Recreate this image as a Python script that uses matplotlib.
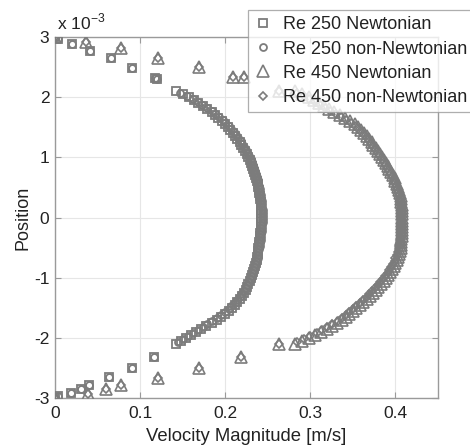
import matplotlib
matplotlib.use("Agg")
import matplotlib.pyplot as plt

plt.rcParams['font.family'] = ['Liberation Sans', 'DejaVu Sans']

# ---------------- data (position in units of 1e-3 m, velocity in m/s) -------------
# near-wall (sparse) samples
re250_wall_top_y = [3.00, 2.97, 2.88, 2.77, 2.65, 2.49, 2.32, 2.30]
re250_wall_top_v = [0.000, 0.004, 0.020, 0.041, 0.066, 0.091, 0.117, 0.120]
re250_wall_bot_y = [-2.32, -2.50, -2.65, -2.78, -2.85, -2.92, -2.97, -3.00]
re250_wall_bot_v = [0.116, 0.090, 0.064, 0.040, 0.031, 0.019, 0.004, 0.000]

re450_wall_top_y = [3.00, 2.92, 2.81, 2.65, 2.50, 2.33, 2.33, 2.10]
re450_wall_top_v = [0.000, 0.036, 0.078, 0.121, 0.169, 0.209, 0.222, 0.263]
re450_wall_bot_y = [-2.10, -2.32, -2.50, -2.66, -2.78, -2.85, -2.93, -3.00]
re450_wall_bot_v = [0.263, 0.219, 0.169, 0.121, 0.077, 0.060, 0.039, 0.000]

# core (dense) samples
core_y = [2.10, 2.05, 2.00, 1.95, 1.90, 1.85, 1.80, 1.75, 1.70, 1.65, 1.60, 1.55,
          1.50, 1.45, 1.40, 1.35, 1.30, 1.25, 1.20, 1.15, 1.10, 1.05, 1.00, 0.95,
          0.90, 0.85, 0.80, 0.75, 0.70, 0.65, 0.60, 0.55, 0.50, 0.45, 0.40, 0.35,
          0.30, 0.25, 0.20, 0.15, 0.10, 0.05, 0.00,
          -0.05, -0.10, -0.15, -0.20, -0.25, -0.30, -0.35, -0.40, -0.45, -0.50,
          -0.55, -0.60, -0.65, -0.70, -0.75, -0.80, -0.85, -0.90, -0.95, -1.00,
          -1.05, -1.10, -1.15, -1.20, -1.25, -1.30, -1.35, -1.40, -1.45, -1.50,
          -1.55, -1.60, -1.65, -1.70, -1.75, -1.80, -1.85, -1.90, -1.95, -2.00,
          -2.05, -2.10]
core_y_shifted = [2.075, 2.025, 1.975, 1.925, 1.875, 1.825, 1.775, 1.725, 1.675,
                  1.625, 1.575, 1.525, 1.475, 1.425, 1.375, 1.325, 1.275, 1.225,
                  1.175, 1.125, 1.075, 1.025, 0.975, 0.925, 0.875, 0.825, 0.775,
                  0.725, 0.675, 0.625, 0.575, 0.525, 0.475, 0.425, 0.375, 0.325,
                  0.275, 0.225, 0.175, 0.125, 0.075, 0.025,
                  -0.025, -0.075, -0.125, -0.175, -0.225, -0.275, -0.325, -0.375,
                  -0.425, -0.475, -0.525, -0.575, -0.625, -0.675, -0.725, -0.775,
                  -0.825, -0.875, -0.925, -0.975, -1.025, -1.075, -1.125, -1.175,
                  -1.225, -1.275, -1.325, -1.375, -1.425, -1.475, -1.525, -1.575,
                  -1.625, -1.675, -1.725, -1.775, -1.825, -1.875, -1.925, -1.975,
                  -2.025, -2.075]

re250_newt_core_v = [0.142, 0.150, 0.157, 0.163, 0.168, 0.174, 0.179, 0.184, 0.188,
                     0.192, 0.196, 0.200, 0.203, 0.206, 0.209, 0.212, 0.214, 0.217,
                     0.219, 0.221, 0.223, 0.225, 0.227, 0.229, 0.230, 0.232, 0.233,
                     0.234, 0.235, 0.236, 0.237, 0.238, 0.239, 0.240, 0.240, 0.241,
                     0.241, 0.242, 0.242, 0.242, 0.242, 0.242, 0.242,
                     0.242, 0.242, 0.242, 0.242, 0.241, 0.241, 0.241, 0.240, 0.240,
                     0.239, 0.239, 0.238, 0.237, 0.237, 0.236, 0.235, 0.234, 0.233,
                     0.232, 0.230, 0.229, 0.227, 0.226, 0.224, 0.222, 0.220, 0.217,
                     0.214, 0.211, 0.208, 0.204, 0.200, 0.195, 0.190, 0.184, 0.178,
                     0.172, 0.166, 0.160, 0.154, 0.148, 0.142]
re250_nonnewt_core_v = [0.147, 0.155, 0.162, 0.168, 0.173, 0.179, 0.184, 0.188, 0.193,
                        0.197, 0.200, 0.204, 0.207, 0.210, 0.213, 0.215, 0.218, 0.220,
                        0.222, 0.224, 0.226, 0.228, 0.230, 0.231, 0.233, 0.234, 0.235,
                        0.236, 0.237, 0.238, 0.239, 0.240, 0.241, 0.241, 0.242, 0.242,
                        0.243, 0.243, 0.243, 0.244, 0.244, 0.244,
                        0.244, 0.244, 0.243, 0.243, 0.243, 0.242, 0.242, 0.242, 0.241,
                        0.241, 0.240, 0.239, 0.239, 0.238, 0.237, 0.236, 0.235, 0.234,
                        0.233, 0.231, 0.230, 0.228, 0.226, 0.224, 0.222, 0.219, 0.217,
                        0.214, 0.211, 0.207, 0.204, 0.200, 0.195, 0.190, 0.185, 0.179,
                        0.174, 0.168, 0.162, 0.156, 0.150, 0.144]

re450_newt_core_v = [0.282, 0.290, 0.298, 0.304, 0.310, 0.316, 0.322, 0.328, 0.335,
                     0.341, 0.347, 0.352, 0.356, 0.360, 0.363, 0.366, 0.369, 0.372,
                     0.374, 0.377, 0.379, 0.382, 0.384, 0.387, 0.389, 0.391, 0.393,
                     0.395, 0.397, 0.399, 0.400, 0.402, 0.403, 0.404, 0.405, 0.406,
                     0.407, 0.407, 0.408, 0.408, 0.408, 0.408, 0.408,
                     0.408, 0.408, 0.408, 0.408, 0.408, 0.408, 0.407, 0.407, 0.407,
                     0.406, 0.405, 0.404, 0.403, 0.402, 0.400, 0.398, 0.396, 0.394,
                     0.391, 0.389, 0.386, 0.383, 0.380, 0.377, 0.374, 0.370, 0.366,
                     0.362, 0.358, 0.354, 0.350, 0.346, 0.342, 0.337, 0.331, 0.326,
                     0.319, 0.313, 0.306, 0.298, 0.290, 0.282]
re450_nonnewt_core_v = [0.284, 0.292, 0.299, 0.305, 0.311, 0.317, 0.323, 0.330, 0.336,
                        0.342, 0.348, 0.352, 0.356, 0.360, 0.363, 0.366, 0.369, 0.371,
                        0.374, 0.376, 0.379, 0.381, 0.384, 0.386, 0.388, 0.390, 0.392,
                        0.394, 0.396, 0.398, 0.399, 0.401, 0.402, 0.403, 0.404, 0.405,
                        0.405, 0.406, 0.406, 0.406, 0.406, 0.406,
                        0.406, 0.406, 0.406, 0.406, 0.406, 0.406, 0.406, 0.405, 0.405,
                        0.404, 0.404, 0.403, 0.402, 0.400, 0.399, 0.397, 0.395, 0.393,
                        0.391, 0.388, 0.385, 0.382, 0.379, 0.376, 0.373, 0.369, 0.366,
                        0.362, 0.358, 0.354, 0.350, 0.346, 0.342, 0.337, 0.332, 0.326,
                        0.320, 0.314, 0.308, 0.300, 0.292, 0.284]

labels = ["Re 250 Newtonian", "Re 250 non-Newtonian",
          "Re 450 Newtonian", "Re 450 non-Newtonian"]
x_ticks = [0, 0.1, 0.2, 0.3, 0.4]
x_tick_labels = ['0', '0.1', '0.2', '0.3', '0.4']
y_ticks = [-3, -2, -1, 0, 1, 2, 3]

# assemble series
series = [
    (re250_wall_top_v + re250_newt_core_v + re250_wall_bot_v,
     re250_wall_top_y + core_y + re250_wall_bot_y, 's', 6.0, 1.3),
    (re250_wall_top_v + re250_nonnewt_core_v + re250_wall_bot_v,
     re250_wall_top_y + core_y_shifted + re250_wall_bot_y, 'o', 5.0, 1.3),
    (re450_wall_top_v + re450_newt_core_v + re450_wall_bot_v,
     re450_wall_top_y + core_y + re450_wall_bot_y, '^', 8.5, 1.2),
    (re450_wall_top_v + re450_nonnewt_core_v + re450_wall_bot_v,
     re450_wall_top_y + core_y_shifted + re450_wall_bot_y, 'D', 4.5, 1.2),
]

# ---------------- figure -------------
fig = plt.figure(figsize=(4.70, 4.46), dpi=100)
ax = fig.add_axes([55/470, 48/446, 383/470, 361/446])

gray = '#7c7c7c'
for (v, y, m, ms, mew), lab in zip(series, labels):
    ax.plot(v, y, ls='none', marker=m, ms=ms, mfc='none', mec=gray, mew=mew,
            label=lab, zorder=3)

ax.set_xlim(0, 0.45)
ax.set_ylim(-3, 3)
ax.set_xticks(x_ticks)
ax.set_xticklabels(x_tick_labels)
ax.set_yticks(y_ticks)
ax.set_yticklabels([str(t) for t in y_ticks])
ax.grid(True, color='#e6e6e6', lw=0.8, zorder=0)
ax.set_axisbelow(True)
for s in ax.spines.values():
    s.set_color('#9a9a9a')
    s.set_linewidth(1.0)
ax.tick_params(direction='in', length=4, width=0.8, color='#9a9a9a',
               top=True, right=True, labelsize=12.5, labelcolor='#222222', pad=4)
ax.tick_params(axis='x', pad=6)

ax.set_xlabel('Velocity Magnitude [m/s]', fontsize=13.3, color='#222222', labelpad=5)
ax.set_ylabel('Position', fontsize=13, color='#222222', labelpad=2)

ax.text(0.004, 1.012, r'x 10$^{\mathregular{-3}}$', transform=ax.transAxes,
        fontsize=12.5, color='#222222', ha='left', va='bottom')

leg = ax.legend(loc='upper left', bbox_to_anchor=(248/470, 1 - 10/446),
                bbox_transform=fig.transFigure, frameon=True, fancybox=False,
                fontsize=13, handlelength=1.0, handletextpad=0.6,
                labelspacing=0.40, borderpad=0.35, borderaxespad=0)
leg.get_frame().set_edgecolor('#9a9a9a')
leg.get_frame().set_linewidth(0.9)
leg.set_zorder(10)
for t in leg.get_texts():
    t.set_color('#222222')

fig.savefig('out.png', dpi=100)
